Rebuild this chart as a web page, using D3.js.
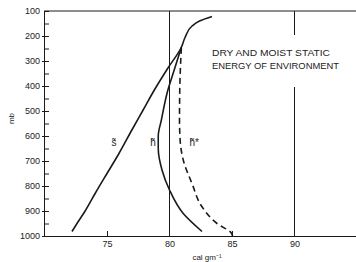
<!DOCTYPE html>
<html><head><meta charset="utf-8">
<script src="https://cdn.jsdelivr.net/npm/d3@7"></script>
<style>
html,body{margin:0;padding:0;background:#fff;}
svg{display:block;}
text{font-family:"Liberation Sans",Arial,sans-serif;fill:#222;}
</style></head>
<body>
<svg id="c" width="356" height="262"></svg>
<script>
// ---- data (x: cal/gm, y: pressure mb) ----
const yTickLabels = [100,200,300,400,500,600,700,800,900,1000];
const yMinorTicks = [150,250,350,450,550,650,750,850,950];
const xTickLabels = [75,80,85,90];
const xGridValues = [80,90];
const xShortTicks = [75,85];
const sTilde = [[72.2,982],[72.6,950],[73.25,900],[74.05,830],[75.0,750],[75.9,675],[77.0,575],[77.9,495],[78.8,415],[79.85,330],[80.95,245],[81.25,205],[81.8,160],[82.4,140],[83.4,122]];
const hTilde = [[82.6,982],[81.1,910],[80.0,816],[79.4,736],[79.1,650],[79.1,600],[79.35,536],[79.85,420],[80.35,340],[80.95,245]];
const hStar = [[85.05,1000],[84.95,988],[83.8,950],[82.6,883],[81.8,790],[81.1,696],[80.85,616],[80.8,536],[80.82,416],[80.88,320],[80.95,245]];
const curveLabels = [["s\u0303",75.35,640],["h\u0303",78.45,640],["h\u0303*",81.6,640]];
const titleLines = ["DRY AND MOIST STATIC","ENERGY OF ENVIRONMENT"];

const svg = d3.select("#c");
const x = d3.scaleLinear().domain([70,95]).range([44.5,357]);
const y = d3.scaleLinear().domain([100,1000]).range([11,236]);

const ink = "#1a1a1a";

// y axis (major labelled, ticks pointing inward)
const yAx = svg.append("g").attr("transform",`translate(${x(70)-0.5},0)`)
  .call(d3.axisLeft(y).tickValues(yTickLabels).tickSize(-5).tickSizeOuter(0).tickPadding(4).tickFormat(d3.format("d")));
yAx.selectAll("text").style("font-size","9px").attr("fill",ink);
svg.append("g").attr("transform",`translate(${x(70)-0.5},0)`)
  .call(d3.axisLeft(y).tickValues(yMinorTicks).tickSize(-5).tickFormat(""))
  .select(".domain").remove();
svg.append("g").attr("transform",`translate(${x(70)-0.5},0)`)
  .call(d3.axisLeft(y).tickValues(yTickLabels.slice(1)).tickSize(2).tickFormat(""))
  .select(".domain").remove();

// top border
svg.append("line").attr("x1",x(70)-0.5).attr("x2",x(95)).attr("y1",y(100)).attr("y2",y(100)).attr("stroke",ink);

// x axis
const xAx = svg.append("g").attr("transform",`translate(0,${y(1000)})`)
  .call(d3.axisBottom(x).tickValues(xTickLabels).tickSize(0).tickSizeOuter(0).tickPadding(5));
xAx.selectAll("text").style("font-size","9px").attr("fill",ink);
svg.append("g").attr("transform",`translate(0,${y(1000)})`)
  .call(d3.axisBottom(x).tickValues(xShortTicks).tickSize(-5).tickFormat(""))
  .select(".domain").remove();
svg.selectAll(".domain,.tick line").attr("stroke",ink);

// gridlines
svg.append("line").attr("x1",x(80)).attr("x2",x(80)).attr("y1",y(100)).attr("y2",y(1000)).attr("stroke",ink).attr("stroke-width",1);
svg.append("line").attr("x1",x(90)).attr("x2",x(90)).attr("y1",y(100)).attr("y2",y(196)).attr("stroke",ink);
svg.append("line").attr("x1",x(90)).attr("x2",x(90)).attr("y1",y(404)).attr("y2",y(1000)).attr("stroke",ink);

// curves
const line = d3.line().x(d=>x(d[0])).y(d=>y(d[1])).curve(d3.curveMonotoneY);
svg.append("path").datum(sTilde).attr("d",line).attr("fill","none").attr("stroke",ink).attr("stroke-width",1.6);
svg.append("path").datum(hTilde).attr("d",line).attr("fill","none").attr("stroke",ink).attr("stroke-width",1.6);
svg.append("path").datum(hStar).attr("d",line).attr("fill","none").attr("stroke",ink).attr("stroke-width",1.6).attr("stroke-dasharray","6,4");

// curve labels
svg.selectAll(".cl").data(curveLabels).enter().append("text")
  .attr("x",d=>x(d[1])).attr("y",d=>y(d[2])).text(d=>d[0])
  .style("font-size","10px").attr("fill",ink);

// title text
svg.selectAll(".tt").data(titleLines).enter().append("text")
  .attr("x",x(83.4)).attr("y",(d,i)=>y(280)+i*12.5)
  .attr("textLength",(d,i)=>i===0?118:127).attr("lengthAdjust","spacingAndGlyphs")
  .text(d=>d).style("font-size","8.5px").attr("fill",ink);

// axis titles
svg.append("text").attr("transform",`translate(14,${y(530)}) rotate(-90)`).attr("text-anchor","middle")
  .text("mb").style("font-size","8px").attr("fill",ink);
svg.append("text").attr("x",x(83)).attr("y",260).attr("text-anchor","middle")
  .style("font-size","8px").attr("fill",ink).text("cal gm\u207B\u00B9");
</script>
</body></html>
